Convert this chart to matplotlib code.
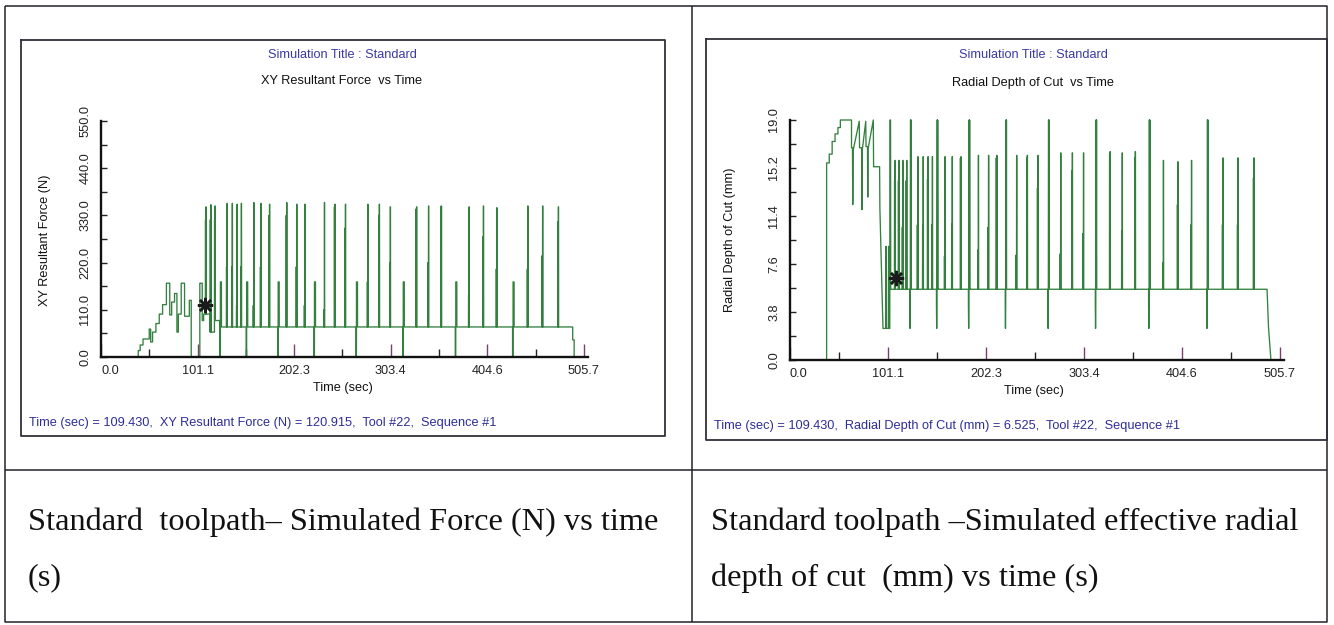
import matplotlib
matplotlib.use("Agg")
import matplotlib.pyplot as plt

# ---------------------------------------------------------------- data
time_ticks = [0.0, 101.14, 202.28, 303.42, 404.56, 505.7]
time_labels = ["0.0", "101.1", "202.3", "303.4", "404.6", "505.7"]
force_ticks = [0.0, 110.0, 220.0, 330.0, 440.0, 550.0]
force_labels = ["0.0", "110.0", "220.0", "330.0", "440.0", "550.0"]
depth_ticks = [0.0, 3.8, 7.6, 11.4, 15.2, 19.0]
depth_labels = ["0.0", "3.8", "7.6", "11.4", "15.2", "19.0"]

# entry phase of the force trace: level changes (time, new level)
force_ramp_t = [39, 41, 44, 50.5, 52, 54, 57.5, 61, 64.5, 68.5, 72, 74, 77, 79.5,
                81, 84, 87.5, 92.5, 94.5, 103.5, 106, 107.5]
force_ramp_v = [15, 28, 42, 65, 35, 58, 78, 100, 122, 172, 98, 128, 148, 58,
                100, 172, 95, 132, 0, 172, 85, 100]

# entry phase of the radial depth trace (polyline)
depth_early_t = [0, 37.8, 37.8, 40.5, 40.5, 43.5, 43.5, 46.5, 46.5, 49.5, 49.5, 52, 52,
                 63.5, 63.5, 64.5, 64.8, 65.2, 71.5, 71.8, 74, 74.3, 74.6, 78.2, 78.5,
                 80, 80.3, 80.6, 86, 86.3, 92.5, 92.8, 96, 99, 99.2, 99.5, 101.5,
                 101.8, 102.1, 103, 103.2, 103.8, 104.0]
depth_early_v = [0, 0, 15.6, 15.6, 16.3, 16.3, 17.3, 17.3, 17.9, 17.9, 18.4, 18.4, 19.0,
                 19.0, 16.8, 16.8, 12.3, 16.6, 18.9, 16.8, 16.8, 11.9, 16.6, 18.9, 16.9,
                 16.9, 12.9, 16.7, 19.0, 15.3, 15.3, 12.0, 2.5, 2.5, 9.0, 2.5, 2.5,
                 9.0, 2.5, 2.5, 19.0, 19.0, 5.6]

# re-entry events (full tool re-engagement)
block_t = [124.5, 152, 185, 223, 267, 316, 371, 431]
force_block_peak = 175
depth_block_peak = 19.0
depth_block_low = 2.5

# engagement spikes shared by both traces
spike_t = [132, 137.5, 142.5, 147, 160, 167.5, 176.5, 194.5, 205, 213.5, 234, 245, 256,
           279.5, 291.5, 303, 330.5, 343, 356.5, 385.5, 400.5, 414.5, 447, 462.5, 479]

force_spike_t = [110, 115, 119.5] + spike_t
force_peak = [350, 355, 352,
              358, 358, 356, 358, 360, 358, 356, 360, 356, 356, 360, 356, 356,
              356, 356, 350, 350, 352, 352, 350, 352, 348, 352, 352, 350]
force_shoulder = [320, 320, 320,
                  210, 210, 120, 210, 120, 210, 330, 330, 210, 120, 110, 350, 300,
                  175, 330, 220, 345, 220, 350, 145, 280, 205, 205, 236, 315]
force_base = [100, 58, 85] + [70] * len(spike_t)

depth_spike_t = [108.5, 112.5, 116.5, 120.5] + spike_t
depth_peak = [15.8, 15.8, 15.8, 15.8,
              16.1, 16.1, 16.1, 16.1, 16.1, 16.1, 16.1, 16.2, 16.2, 16.2, 16.2, 16.2,
              16.2, 16.4, 16.4, 16.4, 16.5, 16.4, 16.5, 15.8, 15.7, 15.8, 16.0, 16.0, 16.0]
depth_shoulder = [14.2, 14.2, 10.5, 14.2,
                  10.7, 10.7, 14.3, 10.7, 8.2, 10.8, 16.0, 8.7, 10.5, 16.0, 8.3, 16.0,
                  13.6, 8.4, 15.0, 10.0, 16.3, 10.2, 16.0, 7.7, 12.3, 10.7, 10.7, 10.7, 14.4]
depth_base = 5.6

cursor_t = 109.430
cursor_force = 120.915
cursor_depth = 6.525


# ---------------------------------------------------------------- trace helpers
def spike(t, peak, shoulder, base):
    return [(t - 0.7, base), (t - 0.6, shoulder), (t - 0.45, shoulder), (t - 0.35, base),
            (t - 0.15, base), (t - 0.05, peak), (t + 0.15, peak), (t + 0.25, base)]


def assemble(xs, ys, events):
    xs, ys = list(xs), list(ys)
    for pts in sorted(events, key=lambda p: p[0][0]):
        xs.append(pts[0][0])
        ys.append(ys[-1])
        for x, y in pts:
            xs.append(x)
            ys.append(y)
    return xs, ys


# force trace
fx0, fy0 = [0], [0]
for t, v in zip(force_ramp_t, force_ramp_v):
    fx0 += [t, t]
    fy0 += [fy0[-1], v]
force_events = [spike(t, p, s, b) for t, p, s, b in
                zip(force_spike_t, force_peak, force_shoulder, force_base)]
force_events += [[(t, 0), (t + 0.5, 0), (t + 0.55, force_block_peak),
                  (t + 1.6, force_block_peak), (t + 1.65, 70)] for t in block_t]
force_events.append([(494, 40), (495.5, 40), (495.5, 0)])
force_x, force_y = assemble(fx0, fy0, force_events)

# radial depth trace
depth_events = [spike(t, p, s, depth_base) for t, p, s in
                zip(depth_spike_t, depth_peak, depth_shoulder)]
depth_events += [[(t - 0.8, 4.4), (t - 0.55, depth_block_low), (t - 0.3, 4.4),
                  (t - 0.15, depth_block_peak), (t + 0.15, depth_block_peak),
                  (t + 0.3, depth_base), (t + 0.45, depth_block_peak), (t + 0.6, depth_base)]
                 for t in block_t]
depth_events.append([(492.5, depth_base), (494, 2.6), (496.5, 0)])
depth_x, depth_y = assemble(depth_early_t, depth_early_v, depth_events)

# ---------------------------------------------------------------- figure
W, H = 1334, 625
fig = plt.figure(figsize=(W / 100, H / 100), dpi=100)
plt.rcParams["font.family"] = ["Liberation Sans", "DejaVu Sans"]

bg = fig.add_axes([0, 0, 1, 1])
bg.set_xlim(0, W)
bg.set_ylim(H, 0)
bg.axis("off")


def box(x0, y0, x1, y1, **kw):
    bg.plot([x0, x1, x1, x0, x0], [y0, y0, y1, y1, y0], **kw)


line_kw = dict(color="#222228", lw=1.1, solid_capstyle="butt")
box(5, 6, 1327, 622, **line_kw)
bg.plot([692, 692], [6, 622], **line_kw)
bg.plot([5, 1327], [470, 470], **line_kw)
box(21, 40, 665, 436, color="#30303a", lw=1.3)
box(706, 39, 1327, 440, color="#30303a", lw=1.3)

GREEN = "#33803f"
BLUE = "#3a3aa6"
NAVY = "#2d2d99"
FS = 9.2


def chart(x0, x1, ytop, ybot, xs, ys, ymax, yticks, ylabels, cursor_v):
    ax = fig.add_axes([x0 / W, 1 - ybot / H, (x1 - x0) / W, (ybot - ytop) / H])
    ax.patch.set_alpha(0)
    ax.plot(xs, ys, color=GREEN, lw=0.95, zorder=2, clip_on=False)
    ax.plot([cursor_t], [cursor_v], marker=(8, 2, 0), ms=11, mew=1.8,
            color="#1a1a1a", zorder=4, linestyle="none")
    ax.set_xlim(0, 510)
    ax.set_ylim(0, ymax)
    for s in ("top", "right"):
        ax.spines[s].set_visible(False)
    for s in ("left", "bottom"):
        ax.spines[s].set_linewidth(1.7)
        ax.spines[s].set_color("#111111")
    ax.set_xticks(time_ticks, time_labels)
    ax.set_xticks([(a + b) / 2 for a, b in zip(time_ticks[:-1], time_ticks[1:])], minor=True)
    ax.set_yticks(yticks, ylabels)
    ax.set_yticks([(a + b) / 2 for a, b in zip(yticks[:-1], yticks[1:])], minor=True)
    ax.tick_params(axis="x", which="major", direction="in", length=9.5, width=1.0,
                   color="#7b3f6e", pad=6, labelsize=FS, labelcolor="#222222")
    ax.tick_params(axis="x", which="minor", direction="in", length=5.5, width=1.0,
                   color="#222222")
    ax.tick_params(axis="y", which="both", direction="in", length=4.5, width=1.0,
                   color="#222222", pad=7, labelsize=FS, labelcolor="#222222")
    for lab in ax.get_yticklabels():
        lab.set_rotation(90)
        lab.set_va("center")
    ax.get_xticklabels()[0].set_ha("left")
    return ax


chart(101, 588, 121, 357, force_x, force_y, 550, force_ticks, force_labels, cursor_force)
chart(790, 1284, 120, 360, depth_x, depth_y, 19.0, depth_ticks, depth_labels, cursor_depth)

# chart titles and labels
txt = dict(fontsize=FS, ha="center", va="center")
bg.text(342, 55, "Simulation Title : Standard", color=BLUE, **txt)
bg.text(342, 81, "XY Resultant Force  vs Time", color="#111111", **txt)
bg.text(343, 388, "Time (sec)", color="#111111", **txt)
bg.text(45, 240, "XY Resultant Force (N)", rotation=90, color="#111111", **txt)
bg.text(29, 423, "Time (sec) = 109.430,  XY Resultant Force (N) = 120.915,  Tool #22,  Sequence #1",
        color=NAVY, fontsize=FS, ha="left", va="center")

bg.text(1033, 55, "Simulation Title : Standard", color=BLUE, **txt)
bg.text(1033, 83, "Radial Depth of Cut  vs Time", color="#111111", **txt)
bg.text(1034, 391, "Time (sec)", color="#111111", **txt)
bg.text(730, 240, "Radial Depth of Cut (mm)", rotation=90, color="#111111", **txt)
bg.text(714, 426, "Time (sec) = 109.430,  Radial Depth of Cut (mm) = 6.525,  Tool #22,  Sequence #1",
        color=NAVY, fontsize=FS, ha="left", va="center")

# table captions
cap = dict(family=["Liberation Serif", "DejaVu Serif"], fontsize=23.3, color="#111111",
           ha="left", va="center")
bg.text(28, 522, "Standard  toolpath\u2013 Simulated Force (N) vs time", **cap)
bg.text(28, 578, "(s)", **cap)
bg.text(711, 522, "Standard toolpath \u2013Simulated effective radial", **cap)
bg.text(711, 578, "depth of cut  (mm) vs time (s)", **cap)

fig.savefig("out.png", dpi=100)
